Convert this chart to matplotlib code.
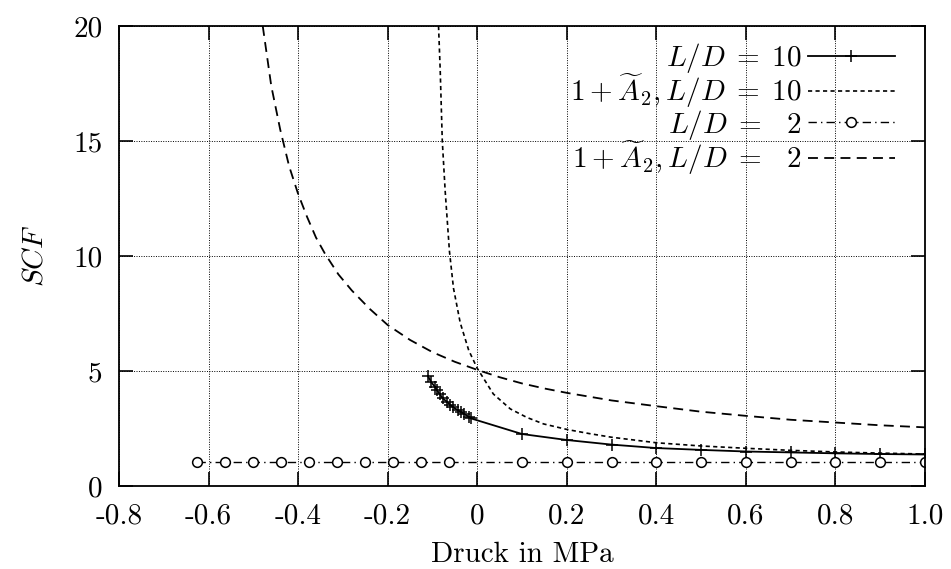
import matplotlib
matplotlib.use("Agg")
import matplotlib.pyplot as plt

plt.rcParams['font.family'] = 'serif'
plt.rcParams['font.serif'] = ['cmr10']
plt.rcParams['mathtext.fontset'] = 'cm'
plt.rcParams['axes.unicode_minus'] = False

# L/D = 10, simulation (+ markers)
x_ld10 = [-0.110, -0.1035, -0.095, -0.090, -0.084, -0.077, -0.068, -0.060, -0.053,
          -0.044, -0.036, -0.029, -0.019, -0.014, 0.1, 0.2, 0.3, 0.4, 0.5, 0.6,
          0.7, 0.8, 0.9, 1.0]
y_ld10 = [4.78, 4.54, 4.32, 4.17, 4.00, 3.81, 3.67, 3.52, 3.42,
          3.30, 3.22, 3.13, 3.01, 2.94, 2.26, 2.00, 1.80, 1.65, 1.57, 1.50,
          1.46, 1.42, 1.39, 1.37]

# 1 + A2, L/D = 10 (short dashes)
x_a10 = [-0.0864, -0.0827, -0.078, -0.0715, -0.062, -0.053, -0.038, -0.019, 0.0,
         0.036, 0.074, 0.111, 0.148, 0.2, 0.25, 0.3, 0.4, 0.5, 0.6, 0.7, 0.8, 0.9, 1.0]
y_a10 = [20.0, 18.1, 15.0, 12.8, 10.2, 8.6, 7.1, 5.9, 5.12,
         4.0, 3.35, 2.98, 2.70, 2.46, 2.28, 2.12, 1.88, 1.74, 1.64, 1.55, 1.48, 1.43, 1.39]

# L/D = 2, simulation (o markers)
x_ld2 = [-0.625, -0.5625, -0.5, -0.4375, -0.375, -0.3125, -0.25, -0.1875, -0.125, -0.0625,
         0.1, 0.2, 0.3, 0.4, 0.5, 0.6, 0.7, 0.8, 0.9, 1.0]
y_ld2 = [1.05, 1.05, 1.05, 1.05, 1.05, 1.05, 1.05, 1.05, 1.05, 1.05,
         1.05, 1.05, 1.05, 1.05, 1.05, 1.05, 1.05, 1.05, 1.05, 1.05]

# 1 + A2, L/D = 2 (long dashes)
x_a2 = [-0.479, -0.46, -0.44, -0.42, -0.40, -0.38, -0.36, -0.34, -0.31, -0.28,
        -0.24, -0.20, -0.15, -0.10, -0.05, 0.0, 0.05, 0.1, 0.15, 0.2, 0.3, 0.4, 0.5,
        0.6, 0.7, 0.8, 0.9, 1.0]
y_a2 = [20.0, 17.4, 15.5, 13.9, 12.7, 11.7, 10.8, 10.1, 9.2, 8.5,
        7.7, 7.0, 6.35, 5.82, 5.4, 5.05, 4.73, 4.46, 4.24, 4.05, 3.72, 3.47, 3.23,
        3.05, 2.88, 2.76, 2.64, 2.55]

xticks = [-0.8, -0.6, -0.4, -0.2, 0, 0.2, 0.4, 0.6, 0.8, 1.0]
xticklabels = ['-0.8', '-0.6', '-0.4', '-0.2', '0', '0.2', '0.4', '0.6', '0.8', '1.0']
yticks = [0, 5, 10, 15, 20]
yticklabels = ['0', '5', '10', '15', '20']

fig = plt.figure(figsize=(9.51, 5.69), dpi=100)
ax = fig.add_axes([119 / 951, 1 - 486 / 569, 806 / 951, 460 / 569])

ax.plot(x_ld10, y_ld10, color='black', lw=1.3, marker='+', ms=9, mew=1.1,
        label=r'$L/D\;=\;10$')
ax.plot(x_a10, y_a10, color='black', lw=1.2, ls=(0, (2.5, 2.0)),
        label=r'$1+\widetilde{A}_2, L/D\;=\;10$')
ax.plot(x_ld2, y_ld2, color='black', lw=1.0, ls=(0, (6, 3, 1, 3)), marker='o', ms=7,
        mfc='white', mew=1.1, label=r'$L/D\;=\;\enspace2$')
ax.plot(x_a2, y_a2, color='black', lw=1.3, ls=(0, (5.5, 3.5)),
        label=r'$1+\widetilde{A}_2, L/D\;=\;\enspace2$')

ax.set_xlim(-0.8, 1.0)
ax.set_ylim(0, 20)
ax.set_xticks(xticks)
ax.set_xticklabels(xticklabels)
ax.set_yticks(yticks)
ax.set_yticklabels(yticklabels)
ax.tick_params(direction='in', length=10, width=1.2, top=True, right=True,
               labelsize=21)
ax.tick_params(axis='x', pad=12)
ax.tick_params(axis='y', pad=12)
ax.grid(True, color='black', ls=(0, (1, 1.5)), lw=0.7)
ax.set_axisbelow(True)
for s in ax.spines.values():
    s.set_linewidth(1.3)

ax.set_xlabel('Druck in MPa', fontsize=21, labelpad=9)
ax.set_ylabel(r'$SCF$', fontsize=21, labelpad=18)

ax.legend(loc='upper right', bbox_to_anchor=(0.9628, 0.968), frameon=False,
          markerfirst=False, numpoints=1, fontsize=21, handlelength=3.0,
          handletextpad=0.2, labelspacing=-0.1,
          borderpad=0, borderaxespad=0)

fig.savefig('out.png', dpi=100)
